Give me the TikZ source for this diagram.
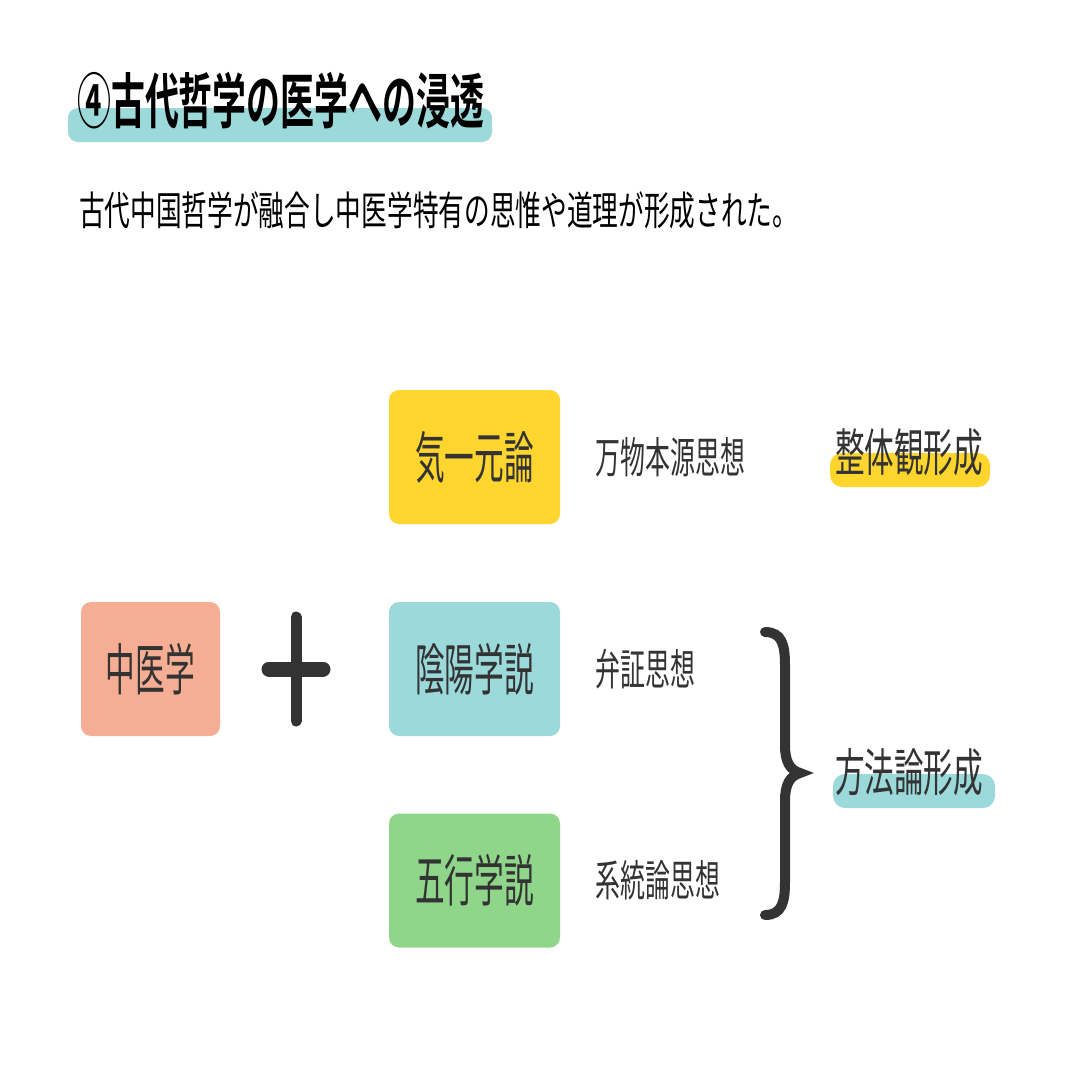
\documentclass[tikz,border=0pt]{standalone}
\usepackage{fontspec}
\newfontfamily\titlefont{Noto Sans CJK JP}[FakeStretch=0.565,BoldFont={* Bold}]
\newfontfamily\leadfont{Noto Sans CJK JP}[FakeStretch=0.642]
\newfontfamily\boxfont{Noto Sans CJK JP}[FakeStretch=0.53]
\newfontfamily\labelfont{Noto Sans CJK JP}[FakeStretch=0.58]
\usetikzlibrary{positioning}

\definecolor{inkgray}{HTML}{333333}
\definecolor{qiyellow}{HTML}{FFD52E}
\definecolor{yyteal}{HTML}{9BD9DA}
\definecolor{tcmsalmon}{HTML}{F5AE94}
\definecolor{wxgreen}{HTML}{8FD68A}

\tikzset{
  card/.style={rounded corners=10pt, minimum width=171pt, minimum height=134pt,
    inner sep=0pt, text=inkgray, font=\boxfont\fontsize{56}{56}\selectfont},
  thought/.style={inner sep=0pt, text=inkgray, font=\labelfont\fontsize{43}{43}\selectfont},
  outcome/.style={inner sep=0pt, anchor=west, text=inkgray, font=\labelfont\fontsize{51}{51}\selectfont},
  marker/.style={rounded corners=12pt},
}

\begin{document}
\begin{tikzpicture}[x=1pt, y=-1pt]
    \useasboundingbox[fill=white] (0,0) rectangle (1080,1080);
    % title
    \fill[yyteal, rounded corners=10pt] (68,108) rectangle (492,142);
    \node[inner sep=0pt, anchor=west, font=\titlefont\bfseries\fontsize{60}{60}\selectfont] (title) at (77,101) {④古代哲学の医学への浸透};
    \node[inner sep=0pt, anchor=west, font=\leadfont\fontsize{40}{40}\selectfont] (lead) at (79,210) {古代中国哲学が融合し中医学特有の思惟や道理が形成された。};

    % boxes
    \node[card, fill=qiyellow] (qi) at (474.5,457) {気一元論};
    \node[card, fill=yyteal] (yinyang) at (474.5,669) {陰陽学説};
    \node[card, fill=wxgreen] (wuxing) at (474.5,880.5) {五行学説};
    \node[card, fill=tcmsalmon, minimum width=139pt] (tcm) at (150.5,669) {中医学};

    % plus
    \coordinate (plus) at (296,669);
    \draw[inkgray, line width=11pt, line cap=round] ([yshift=-52pt]plus) -- ([yshift=52pt]plus);
    \draw[inkgray, line width=15pt, line cap=round] ([xshift=-27pt]plus) -- ([xshift=27pt]plus);

    % thoughts
    \node[thought, right=35pt of qi] (wanwu) {万物本源思想};
    \node[thought, right=35pt of yinyang] (bianzheng) {弁証思想};
    \node[thought, right=35pt of wuxing] (xitong) {系統論思想};

    % brace
    \draw[inkgray, line width=10pt, line cap=round]
        (765,632) .. controls (782,632) and (785,645) .. (785,665)
        -- (785,745) .. controls (785,762) and (790,770) .. (800,773)
        .. controls (790,776) and (785,784) .. (785,801)
        -- (785,882) .. controls (785,902) and (782,915) .. (765,915);

    % outcomes
    \fill[qiyellow, marker] (830,453) rectangle (990,487);
    \node[outcome] (whole) at (835,452) {整体観形成};
    \fill[yyteal, marker] (833,774) rectangle (995,808);
    \node[outcome] (method) at (835,772) {方法論形成};
\end{tikzpicture}
\end{document}
